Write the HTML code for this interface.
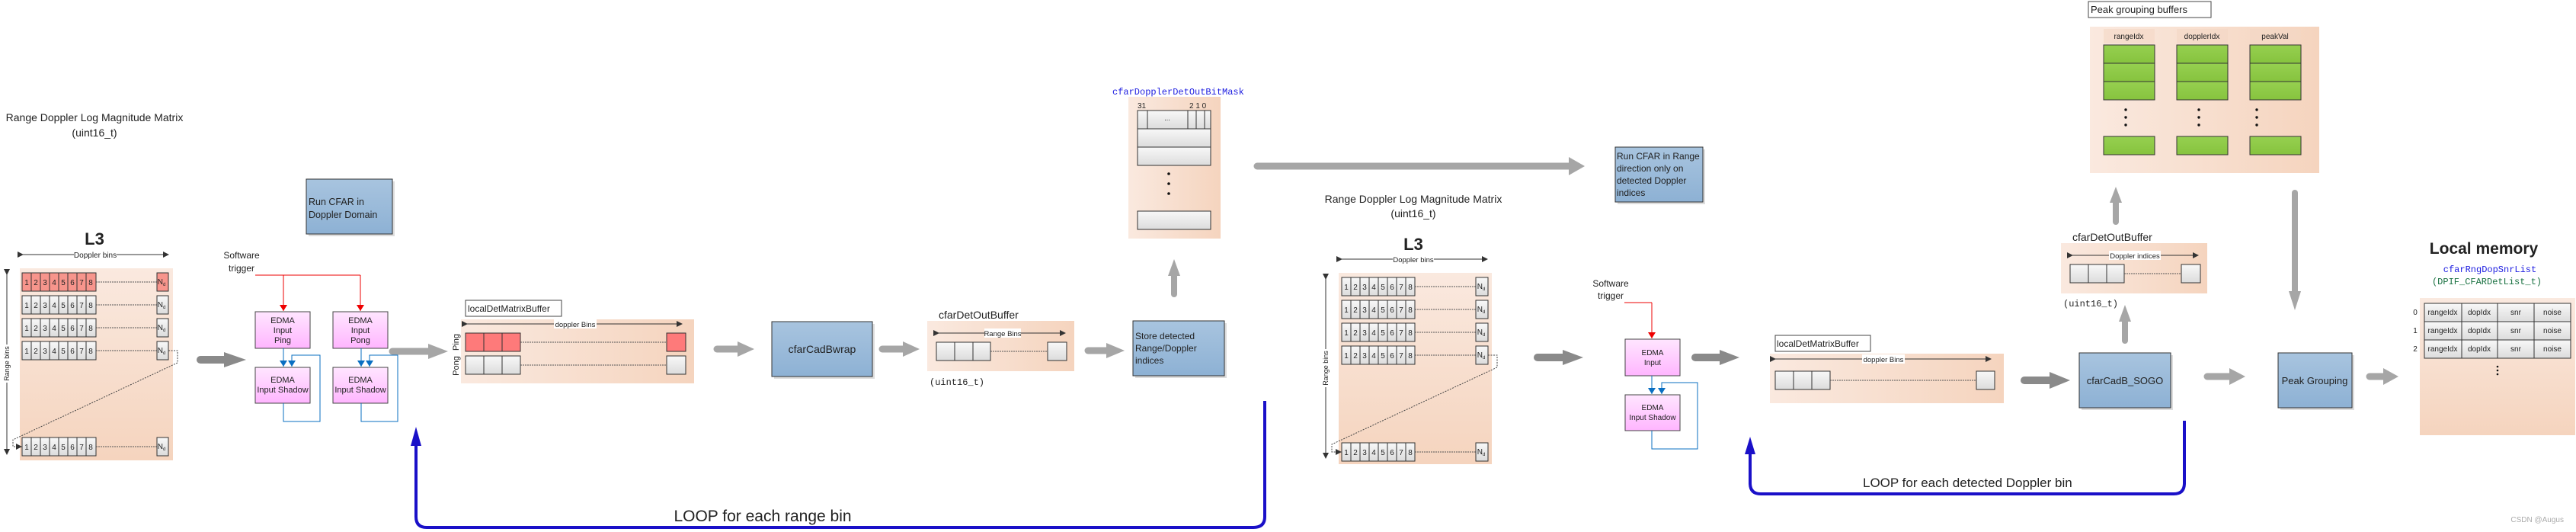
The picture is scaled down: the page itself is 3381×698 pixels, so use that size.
<!DOCTYPE html>
<html><head><meta charset="utf-8"><style>
html,body{margin:0;padding:0;background:#fff;width:3381px;height:698px;overflow:hidden}
svg{display:block}
text{font-family:"Liberation Sans",sans-serif;fill:#222}
.m{font-family:"Liberation Mono",monospace}
</style></head><body>
<svg width="3381" height="698" viewBox="0 0 3381 698" xmlns="http://www.w3.org/2000/svg">
<defs>
<linearGradient id="pk" x1="0" y1="0" x2="1" y2="0"><stop offset="0" stop-color="#fae9df"/><stop offset="1" stop-color="#f5d4be"/></linearGradient>
<linearGradient id="pkv" x1="0" y1="0" x2="0" y2="1"><stop offset="0" stop-color="#fae9df"/><stop offset="1" stop-color="#f5d4be"/></linearGradient>
<linearGradient id="bl" x1="0" y1="0" x2="0" y2="1"><stop offset="0" stop-color="#a8c4df"/><stop offset="1" stop-color="#8db1d4"/></linearGradient>
<linearGradient id="ed" x1="0" y1="0" x2="0" y2="1"><stop offset="0" stop-color="#ffe6ff"/><stop offset="1" stop-color="#ffb5ff"/></linearGradient>
<linearGradient id="ce" x1="0" y1="0" x2="0" y2="1"><stop offset="0" stop-color="#f8f8f8"/><stop offset="1" stop-color="#dcdcdc"/></linearGradient>
<linearGradient id="gr" x1="0" y1="0" x2="0" y2="1"><stop offset="0" stop-color="#96d050"/><stop offset="1" stop-color="#86c33e"/></linearGradient>
<marker id="ah" markerWidth="8" markerHeight="8" refX="7" refY="4" orient="auto" markerUnits="userSpaceOnUse"><path d="M0,0 L8,4 L0,8z" fill="#333"/></marker>
<marker id="ahr" markerWidth="8" markerHeight="10" refX="8" refY="5" orient="auto" markerUnits="userSpaceOnUse"><path d="M0,0 L8,5 L0,10z" fill="#e00"/></marker>
<marker id="ahb" markerWidth="8" markerHeight="10" refX="8" refY="5" orient="auto" markerUnits="userSpaceOnUse"><path d="M0,0 L8,5 L0,10z" fill="#0a6fc2"/></marker>
</defs>

<!-- ========== LEFT MATRIX ========== -->
<text x="124" y="159" font-size="14" text-anchor="middle">Range Doppler Log Magnitude Matrix</text>
<text x="124" y="179" font-size="14" text-anchor="middle">(uint16_t)</text>
<text x="124" y="321" font-size="22" font-weight="bold" text-anchor="middle">L3</text>
<line x1="30" y1="334" x2="221" y2="334" stroke="#333" marker-start="url(#ah)" marker-end="url(#ah)"/>
<rect x="97" y="328" width="56" height="12" fill="#fff"/>
<text x="125" y="338" font-size="10" text-anchor="middle">Doppler bins</text>
<rect x="26" y="352" width="201" height="252" fill="url(#pkv)"/>
<line x1="9" y1="360" x2="9" y2="596" stroke="#333" marker-start="url(#ah)" marker-end="url(#ah)"/>
<rect x="3" y="452" width="12" height="50" fill="#fff"/>
<text transform="translate(12,477) rotate(-90)" font-size="9" text-anchor="middle">Range bins</text>

<g font-size="10" text-anchor="middle">
<rect x="29" y="358" width="97" height="24" fill="#f7958c" stroke="#333"/>
<path d="M41,358v24M53,358v24M65,358v24M77,358v24M89,358v24M101,358v24M113,358v24" stroke="#333"/>
<text x="35 47 59 71 83 95 107 119" y="374">12345678</text>
<line x1="126" y1="370" x2="206" y2="370" stroke="#555" stroke-dasharray="2,1"/>
<rect x="206" y="358" width="15" height="24" fill="#f7958c" stroke="#333"/>
<text x="212" y="373">N<tspan font-size="6" dy="2">d</tspan></text>

<rect x="29" y="388" width="97" height="24" fill="url(#ce)" stroke="#333"/>
<path d="M41,388v24M53,388v24M65,388v24M77,388v24M89,388v24M101,388v24M113,388v24" stroke="#333"/>
<text x="35 47 59 71 83 95 107 119" y="404">12345678</text>
<line x1="126" y1="400" x2="206" y2="400" stroke="#555" stroke-dasharray="2,1"/>
<rect x="206" y="388" width="15" height="24" fill="url(#ce)" stroke="#333"/>
<text x="212" y="403">N<tspan font-size="6" dy="2">d</tspan></text>

<rect x="29" y="418" width="97" height="24" fill="url(#ce)" stroke="#333"/>
<path d="M41,418v24M53,418v24M65,418v24M77,418v24M89,418v24M101,418v24M113,418v24" stroke="#333"/>
<text x="35 47 59 71 83 95 107 119" y="434">12345678</text>
<line x1="126" y1="430" x2="206" y2="430" stroke="#555" stroke-dasharray="2,1"/>
<rect x="206" y="418" width="15" height="24" fill="url(#ce)" stroke="#333"/>
<text x="212" y="433">N<tspan font-size="6" dy="2">d</tspan></text>

<rect x="29" y="448" width="97" height="24" fill="url(#ce)" stroke="#333"/>
<path d="M41,448v24M53,448v24M65,448v24M77,448v24M89,448v24M101,448v24M113,448v24" stroke="#333"/>
<text x="35 47 59 71 83 95 107 119" y="464">12345678</text>
<line x1="126" y1="460" x2="206" y2="460" stroke="#555" stroke-dasharray="2,1"/>
<rect x="206" y="448" width="15" height="24" fill="url(#ce)" stroke="#333"/>
<text x="212" y="463">N<tspan font-size="6" dy="2">d</tspan></text>

<rect x="29" y="574" width="97" height="24" fill="url(#ce)" stroke="#333"/>
<path d="M41,574v24M53,574v24M65,574v24M77,574v24M89,574v24M101,574v24M113,574v24" stroke="#333"/>
<text x="35 47 59 71 83 95 107 119" y="590">12345678</text>
<line x1="126" y1="586" x2="206" y2="586" stroke="#555" stroke-dasharray="2,1"/>
<rect x="206" y="574" width="15" height="24" fill="url(#ce)" stroke="#333"/>
<text x="212" y="589">N<tspan font-size="6" dy="2">d</tspan></text>
</g>
<path d="M221,460 H233 V476 L17,577 V586 H28" fill="none" stroke="#444" stroke-dasharray="2,1.5" marker-end="url(#ah)"/>

<!-- gray arrow into EDMA -->
<line x1="263" y1="472" x2="298" y2="472" stroke="#8a8a8a" stroke-width="10" stroke-linecap="round"/>
<polygon points="294,462 323,472 294,482" fill="#8a8a8a"/>

<!-- Run CFAR Doppler -->
<rect x="405" y="238" width="113" height="72" fill="#ddd"/>
<rect x="402" y="235" width="113" height="72" fill="url(#bl)" stroke="#333"/>
<text x="405" y="269" font-size="12.5">Run CFAR in</text>
<text x="405" y="286" font-size="12.5">Doppler Domain</text>

<!-- Software trigger + EDMA left -->
<text x="317" y="339" font-size="12" text-anchor="middle">Software</text>
<text x="317" y="356" font-size="12" text-anchor="middle">trigger</text>
<path d="M335,361 H473" stroke="#e00" fill="none"/>
<line x1="372" y1="361" x2="372" y2="408" stroke="#e00" marker-end="url(#ahr)"/>
<line x1="473" y1="361" x2="473" y2="408" stroke="#e00" marker-end="url(#ahr)"/>
<g font-size="11" text-anchor="middle">
<rect x="335" y="409" width="72" height="48" fill="url(#ed)" stroke="#444"/>
<text x="371" y="424">EDMA</text><text x="371" y="437">Input</text><text x="371" y="450">Ping</text>
<rect x="437" y="409" width="72" height="48" fill="url(#ed)" stroke="#444"/>
<text x="473" y="424">EDMA</text><text x="473" y="437">Input</text><text x="473" y="450">Pong</text>
<rect x="335" y="482" width="72" height="47" fill="url(#ed)" stroke="#444"/>
<text x="371" y="502">EDMA</text><text x="371" y="515">Input Shadow</text>
<rect x="437" y="482" width="72" height="47" fill="url(#ed)" stroke="#444"/>
<text x="473" y="502">EDMA</text><text x="473" y="515">Input Shadow</text>
</g>
<line x1="372" y1="457" x2="372" y2="481" stroke="#0a6fc2" marker-end="url(#ahb)"/>
<path d="M372,529 V553 H420 V466 H383 V481" fill="none" stroke="#0a6fc2" marker-end="url(#ahb)"/>
<line x1="474" y1="457" x2="474" y2="481" stroke="#0a6fc2" marker-end="url(#ahb)"/>
<path d="M474,529 V553 H522 V466 H485 V481" fill="none" stroke="#0a6fc2" marker-end="url(#ahb)"/>

<!-- gray arrow to localDet -->
<line x1="515" y1="461" x2="565" y2="461" stroke="#a6a6a6" stroke-width="9" stroke-linecap="round"/>
<polygon points="562,451 588,461 562,471" fill="#a6a6a6"/>

<!-- localDetMatrixBuffer (ping/pong) -->
<rect x="611" y="394" width="126" height="21" fill="#fff" stroke="#444"/>
<text x="614" y="409" font-size="12">localDetMatrixBuffer</text>
<rect x="605" y="419" width="306" height="84" fill="url(#pk)"/>
<line x1="613" y1="425" x2="895" y2="425" stroke="#333" marker-start="url(#ah)" marker-end="url(#ah)"/>
<rect x="727" y="419" width="56" height="12" fill="#fff"/>
<text x="755" y="429" font-size="9.5" text-anchor="middle">doppler Bins</text>
<rect x="611" y="437" width="72" height="24" fill="#fe7a7a" stroke="#333"/>
<path d="M635,437v24M659,437v24" stroke="#333"/>
<line x1="683" y1="449" x2="875" y2="449" stroke="#555" stroke-dasharray="2,1"/>
<rect x="875" y="437" width="25" height="24" fill="#fe7a7a" stroke="#333"/>
<rect x="611" y="467" width="72" height="24" fill="url(#ce)" stroke="#333"/>
<path d="M635,467v24M659,467v24" stroke="#333"/>
<line x1="683" y1="479" x2="875" y2="479" stroke="#555" stroke-dasharray="2,1"/>
<rect x="875" y="467" width="25" height="24" fill="url(#ce)" stroke="#333"/>
<text transform="translate(602,449) rotate(-90)" font-size="11" text-anchor="middle">Ping</text>
<text transform="translate(602,480) rotate(-90)" font-size="11" text-anchor="middle">Pong</text>

<line x1="941" y1="458" x2="972" y2="458" stroke="#a6a6a6" stroke-width="9" stroke-linecap="round"/>
<polygon points="968,448 990,458 968,468" fill="#a6a6a6"/>
<rect x="1016" y="425" width="132" height="72" fill="#ddd"/>
<rect x="1013" y="422" width="132" height="72" fill="url(#bl)" stroke="#333"/>
<text x="1079" y="463" font-size="14" text-anchor="middle">cfarCadBwrap</text>
<line x1="1158" y1="458" x2="1188" y2="458" stroke="#a6a6a6" stroke-width="9" stroke-linecap="round"/>
<polygon points="1185,448 1207,458 1185,468" fill="#a6a6a6"/>

<!-- cfarDetOutBuffer 1 -->
<text x="1232" y="418" font-size="14">cfarDetOutBuffer</text>
<rect x="1217" y="421" width="193" height="66" fill="url(#pk)"/>
<line x1="1232" y1="437" x2="1398" y2="437" stroke="#333" marker-start="url(#ah)" marker-end="url(#ah)"/>
<rect x="1292" y="431" width="48" height="12" fill="#fff"/>
<text x="1316" y="441" font-size="9.5" text-anchor="middle">Range Bins</text>
<rect x="1229" y="449" width="71" height="24" fill="url(#ce)" stroke="#333"/>
<path d="M1253,449v24M1277,449v24" stroke="#333"/>
<line x1="1300" y1="461" x2="1375" y2="461" stroke="#555" stroke-dasharray="2,1"/>
<rect x="1375" y="449" width="25" height="24" fill="url(#ce)" stroke="#333"/>
<text x="1220" y="505" font-size="12" class="m">(uint16_t)</text>

<line x1="1428" y1="460" x2="1455" y2="460" stroke="#a6a6a6" stroke-width="9" stroke-linecap="round"/>
<polygon points="1452,450 1476,460 1452,470" fill="#a6a6a6"/>
<rect x="1490" y="424" width="120" height="72" fill="#ddd"/>
<rect x="1487" y="421" width="120" height="72" fill="url(#bl)" stroke="#333"/>
<text x="1490" y="445" font-size="12">Store detected</text>
<text x="1490" y="461" font-size="12">Range/Doppler</text>
<text x="1490" y="477" font-size="12">indices</text>

<!-- up arrow to bitmask -->
<line x1="1541" y1="386" x2="1541" y2="358" stroke="#a6a6a6" stroke-width="8" stroke-linecap="round"/>
<polygon points="1533,362 1541,340 1549,362" fill="#a6a6a6"/>

<!-- bitmask -->
<text x="1460" y="124" font-size="12" class="m" style="fill:#1c1ce0">cfarDopplerDetOutBitMask</text>
<rect x="1481" y="127" width="121" height="186" fill="url(#pk)"/>
<text x="1493" y="142" font-size="10">31</text>
<text x="1561" y="142" font-size="10">2 1 0</text>
<rect x="1493" y="145" width="96" height="24" fill="url(#ce)" stroke="#333"/>
<path d="M1506,145v24M1559,145v24M1570,145v24M1581,145v24" stroke="#333"/>
<text x="1532" y="158" font-size="9" text-anchor="middle">...</text>
<rect x="1493" y="169" width="96" height="24" fill="url(#ce)" stroke="#333"/>
<rect x="1493" y="193" width="96" height="24" fill="url(#ce)" stroke="#333"/>
<circle cx="1534" cy="228" r="1.8" fill="#111"/><circle cx="1534" cy="241" r="1.8" fill="#111"/><circle cx="1534" cy="254" r="1.8" fill="#111"/>
<rect x="1493" y="277" width="96" height="24" fill="url(#ce)" stroke="#333"/>

<!-- long arrow -->
<line x1="1650" y1="218" x2="2062" y2="218" stroke="#a6a6a6" stroke-width="9" stroke-linecap="round"/>
<polygon points="2059,206 2080,218 2059,230" fill="#a6a6a6"/>

<!-- Run CFAR Range -->
<rect x="2123" y="196" width="115" height="72" fill="#ddd"/>
<rect x="2120" y="193" width="115" height="72" fill="url(#bl)" stroke="#333"/>
<text x="2122" y="209" font-size="12">Run CFAR in Range</text>
<text x="2122" y="225" font-size="12">direction only on</text>
<text x="2122" y="241" font-size="12">detected Doppler</text>
<text x="2122" y="257" font-size="12">indices</text>

<!-- Loop 1 -->
<path d="M546,580 V678 Q546,692 560,692 H1645 Q1660,692 1660,678 V526" fill="none" stroke="#1a10c8" stroke-width="4"/>
<polygon points="539,585 546,560 553,585" fill="#1a10c8"/>
<text x="1001" y="684" font-size="21" text-anchor="middle">LOOP for each range bin</text>

<!-- ========== RIGHT MATRIX ========== -->
<text x="1855" y="266" font-size="14" text-anchor="middle">Range Doppler Log Magnitude Matrix</text>
<text x="1855" y="285" font-size="14" text-anchor="middle">(uint16_t)</text>
<text x="1855" y="328" font-size="22" font-weight="bold" text-anchor="middle">L3</text>
<line x1="1761" y1="340" x2="1952" y2="340" stroke="#333" marker-start="url(#ah)" marker-end="url(#ah)"/>
<rect x="1828" y="334" width="54" height="12" fill="#fff"/>
<text x="1855" y="344" font-size="9.5" text-anchor="middle">Doppler bins</text>
<rect x="1757" y="358" width="201" height="251" fill="url(#pkv)"/>
<line x1="1740" y1="366" x2="1740" y2="601" stroke="#333" marker-start="url(#ah)" marker-end="url(#ah)"/>
<rect x="1734" y="458" width="12" height="50" fill="#fff"/>
<text transform="translate(1743,483) rotate(-90)" font-size="9" text-anchor="middle">Range bins</text>
<g font-size="10" text-anchor="middle">
<rect x="1761" y="364" width="96" height="24" fill="url(#ce)" stroke="#333"/>
<path d="M1773,364v24M1785,364v24M1797,364v24M1809,364v24M1821,364v24M1833,364v24M1845,364v24" stroke="#333"/>
<text x="1767 1779 1791 1803 1815 1827 1839 1851" y="380">12345678</text>
<line x1="1857" y1="376" x2="1937" y2="376" stroke="#555" stroke-dasharray="2,1"/>
<rect x="1937" y="364" width="16" height="24" fill="url(#ce)" stroke="#333"/>
<text x="1944" y="379">N<tspan font-size="6" dy="2">d</tspan></text>

<rect x="1761" y="394" width="96" height="24" fill="url(#ce)" stroke="#333"/>
<path d="M1773,394v24M1785,394v24M1797,394v24M1809,394v24M1821,394v24M1833,394v24M1845,394v24" stroke="#333"/>
<text x="1767 1779 1791 1803 1815 1827 1839 1851" y="410">12345678</text>
<line x1="1857" y1="406" x2="1937" y2="406" stroke="#555" stroke-dasharray="2,1"/>
<rect x="1937" y="394" width="16" height="24" fill="url(#ce)" stroke="#333"/>
<text x="1944" y="409">N<tspan font-size="6" dy="2">d</tspan></text>

<rect x="1761" y="424" width="96" height="24" fill="url(#ce)" stroke="#333"/>
<path d="M1773,424v24M1785,424v24M1797,424v24M1809,424v24M1821,424v24M1833,424v24M1845,424v24" stroke="#333"/>
<text x="1767 1779 1791 1803 1815 1827 1839 1851" y="440">12345678</text>
<line x1="1857" y1="436" x2="1937" y2="436" stroke="#555" stroke-dasharray="2,1"/>
<rect x="1937" y="424" width="16" height="24" fill="url(#ce)" stroke="#333"/>
<text x="1944" y="439">N<tspan font-size="6" dy="2">d</tspan></text>

<rect x="1761" y="454" width="96" height="24" fill="url(#ce)" stroke="#333"/>
<path d="M1773,454v24M1785,454v24M1797,454v24M1809,454v24M1821,454v24M1833,454v24M1845,454v24" stroke="#333"/>
<text x="1767 1779 1791 1803 1815 1827 1839 1851" y="470">12345678</text>
<line x1="1857" y1="466" x2="1937" y2="466" stroke="#555" stroke-dasharray="2,1"/>
<rect x="1937" y="454" width="16" height="24" fill="url(#ce)" stroke="#333"/>
<text x="1944" y="469">N<tspan font-size="6" dy="2">d</tspan></text>

<rect x="1761" y="581" width="96" height="24" fill="url(#ce)" stroke="#333"/>
<path d="M1773,581v24M1785,581v24M1797,581v24M1809,581v24M1821,581v24M1833,581v24M1845,581v24" stroke="#333"/>
<text x="1767 1779 1791 1803 1815 1827 1839 1851" y="597">12345678</text>
<line x1="1857" y1="593" x2="1937" y2="593" stroke="#555" stroke-dasharray="2,1"/>
<rect x="1937" y="581" width="16" height="24" fill="url(#ce)" stroke="#333"/>
<text x="1944" y="596">N<tspan font-size="6" dy="2">d</tspan></text>
</g>
<path d="M1953,466 H1965 V482 L1748,583 V593 H1760" fill="none" stroke="#444" stroke-dasharray="2,1.5" marker-end="url(#ah)"/>

<line x1="2018" y1="469" x2="2055" y2="469" stroke="#8a8a8a" stroke-width="10" stroke-linecap="round"/>
<polygon points="2051,459 2078,469 2051,479" fill="#8a8a8a"/>

<!-- right EDMA -->
<text x="2114" y="376" font-size="12" text-anchor="middle">Software</text>
<text x="2114" y="392" font-size="12" text-anchor="middle">trigger</text>
<path d="M2132,397 H2168" stroke="#e00" fill="none"/>
<line x1="2168" y1="397" x2="2168" y2="444" stroke="#e00" marker-end="url(#ahr)"/>
<g font-size="10" text-anchor="middle">
<rect x="2133" y="445" width="72" height="48" fill="url(#ed)" stroke="#444"/>
<text x="2169" y="466">EDMA</text><text x="2169" y="479">Input</text>
<rect x="2133" y="518" width="72" height="47" fill="url(#ed)" stroke="#444"/>
<text x="2169" y="538">EDMA</text><text x="2169" y="551">Input Shadow</text>
</g>
<line x1="2168" y1="493" x2="2168" y2="517" stroke="#0a6fc2" marker-end="url(#ahb)"/>
<path d="M2168,565 V589 H2228 V502 H2181 V517" fill="none" stroke="#0a6fc2" marker-end="url(#ahb)"/>

<line x1="2225" y1="469" x2="2262" y2="469" stroke="#8a8a8a" stroke-width="10" stroke-linecap="round"/>
<polygon points="2257,459 2283,469 2257,479" fill="#8a8a8a"/>

<!-- localDet 2 -->
<rect x="2330" y="440" width="125" height="21" fill="#fff" stroke="#444"/>
<text x="2332" y="455" font-size="12">localDetMatrixBuffer</text>
<rect x="2323" y="464" width="307" height="65" fill="url(#pk)"/>
<line x1="2330" y1="471" x2="2613" y2="471" stroke="#333" marker-start="url(#ah)" marker-end="url(#ah)"/>
<rect x="2444" y="465" width="56" height="12" fill="#fff"/>
<text x="2472" y="475" font-size="9.5" text-anchor="middle">doppler Bins</text>
<rect x="2330" y="487" width="72" height="24" fill="url(#ce)" stroke="#333"/>
<path d="M2354,487v24M2378,487v24" stroke="#333"/>
<line x1="2402" y1="499" x2="2594" y2="499" stroke="#555" stroke-dasharray="2,1"/>
<rect x="2594" y="487" width="24" height="24" fill="url(#ce)" stroke="#333"/>

<!-- Loop 2 -->
<path d="M2297,590 V634 Q2297,648 2311,648 H2853 Q2867,648 2867,634 V552" fill="none" stroke="#1a10c8" stroke-width="4"/>
<polygon points="2290,596 2297,573 2304,596" fill="#1a10c8"/>
<text x="2445" y="639" font-size="17">LOOP for each detected Doppler bin</text>

<!-- cfarCadB_SOGO -->
<line x1="2657" y1="499" x2="2695" y2="499" stroke="#8a8a8a" stroke-width="10" stroke-linecap="round"/>
<polygon points="2690,488 2717,499 2690,510" fill="#8a8a8a"/>
<rect x="2732" y="466" width="120" height="72" fill="#ddd"/>
<rect x="2729" y="463" width="120" height="72" fill="url(#bl)" stroke="#333"/>
<text x="2789" y="504" font-size="13" text-anchor="middle">cfarCadB_SOGO</text>
<line x1="2789" y1="447" x2="2789" y2="418" stroke="#a6a6a6" stroke-width="8" stroke-linecap="round"/>
<polygon points="2781,422 2789,400 2797,422" fill="#a6a6a6"/>

<!-- cfarDetOutBuffer 2 -->
<text x="2720" y="316" font-size="14">cfarDetOutBuffer</text>
<rect x="2705" y="319" width="192" height="66" fill="url(#pk)"/>
<line x1="2720" y1="335" x2="2885" y2="335" stroke="#333" marker-start="url(#ah)" marker-end="url(#ah)"/>
<rect x="2768" y="329" width="68" height="12" fill="#fff"/>
<text x="2802" y="339" font-size="9.5" text-anchor="middle">Doppler indices</text>
<rect x="2717" y="347" width="71" height="24" fill="url(#ce)" stroke="#333"/>
<path d="M2741,347v24M2765,347v24" stroke="#333"/>
<line x1="2788" y1="359" x2="2863" y2="359" stroke="#555" stroke-dasharray="2,1"/>
<rect x="2863" y="347" width="25" height="24" fill="url(#ce)" stroke="#333"/>
<text x="2708" y="402" font-size="12" class="m">(uint16_t)</text>
<line x1="2777" y1="291" x2="2777" y2="262" stroke="#a6a6a6" stroke-width="8" stroke-linecap="round"/>
<polygon points="2769,266 2777,245 2785,266" fill="#a6a6a6"/>

<!-- Peak grouping buffers -->
<rect x="2741" y="2" width="161" height="21" fill="#fff" stroke="#444"/>
<text x="2744" y="17" font-size="13">Peak grouping buffers</text>
<rect x="2743" y="35" width="301" height="192" fill="url(#pk)"/>
<rect x="2761" y="38" width="67" height="19" fill="#f4d7c4" opacity=".6"/>
<rect x="2857" y="38" width="67" height="19" fill="#f4d7c4" opacity=".6"/>
<rect x="2953" y="38" width="67" height="19" fill="#f4d7c4" opacity=".6"/>
<text x="2794" y="51" font-size="10" text-anchor="middle">rangeIdx</text>
<text x="2890" y="51" font-size="10" text-anchor="middle">dopplerIdx</text>
<text x="2986" y="51" font-size="10" text-anchor="middle">peakVal</text>
<g fill="url(#gr)" stroke="#333">
<rect x="2761" y="59" width="67" height="24"/><rect x="2761" y="83" width="67" height="24"/><rect x="2761" y="107" width="67" height="24"/><rect x="2761" y="179" width="67" height="24"/>
<rect x="2857" y="59" width="67" height="24"/><rect x="2857" y="83" width="67" height="24"/><rect x="2857" y="107" width="67" height="24"/><rect x="2857" y="179" width="67" height="24"/>
<rect x="2953" y="59" width="67" height="24"/><rect x="2953" y="83" width="67" height="24"/><rect x="2953" y="107" width="67" height="24"/><rect x="2953" y="179" width="67" height="24"/>
</g>
<g fill="#111">
<circle cx="2790" cy="144" r="1.7"/><circle cx="2790" cy="154" r="1.7"/><circle cx="2790" cy="164" r="1.7"/>
<circle cx="2886" cy="144" r="1.7"/><circle cx="2886" cy="154" r="1.7"/><circle cx="2886" cy="164" r="1.7"/>
<circle cx="2962" cy="144" r="1.7"/><circle cx="2962" cy="154" r="1.7"/><circle cx="2962" cy="164" r="1.7"/>
</g>
<line x1="3012" y1="253" x2="3012" y2="385" stroke="#a6a6a6" stroke-width="8" stroke-linecap="round"/>
<polygon points="3004,382 3012,407 3020,382" fill="#a6a6a6"/>

<!-- Peak Grouping -->
<line x1="2897" y1="494" x2="2930" y2="494" stroke="#a6a6a6" stroke-width="9" stroke-linecap="round"/>
<polygon points="2926,483 2947,494 2926,505" fill="#a6a6a6"/>
<rect x="2993" y="466" width="97" height="72" fill="#ddd"/>
<rect x="2990" y="463" width="97" height="72" fill="url(#bl)" stroke="#333"/>
<text x="3038" y="504" font-size="13" text-anchor="middle">Peak Grouping</text>
<line x1="3110" y1="494" x2="3132" y2="494" stroke="#a6a6a6" stroke-width="9" stroke-linecap="round"/>
<polygon points="3128,483 3148,494 3128,505" fill="#a6a6a6"/>

<!-- Local memory -->
<text x="3260" y="333" font-size="21" font-weight="bold" text-anchor="middle">Local memory</text>
<text x="3268" y="357" font-size="12" class="m" text-anchor="middle" style="fill:#1c1ce0">cfarRngDopSnrList</text>
<text x="3264" y="373" font-size="12" class="m" text-anchor="middle" style="fill:#187040">(DPIF_CFARDetList_t)</text>
<rect x="3176" y="391" width="204" height="180" fill="url(#pkv)"/>
<g font-size="10" text-anchor="middle">
<text x="3170" y="413">0</text><text x="3170" y="437">1</text><text x="3170" y="461">2</text>
<g fill="url(#ce)" stroke="#333">
<rect x="3182" y="398" width="192" height="24"/><rect x="3182" y="422" width="192" height="24"/><rect x="3182" y="446" width="192" height="24"/>
</g>
<path d="M3231,398v72M3278,398v72M3326,398v72" stroke="#333"/>
<text x="3206" y="413">rangeIdx</text><text x="3254" y="413">dopIdx</text><text x="3302" y="413">snr</text><text x="3350" y="413">noise</text>
<text x="3206" y="437">rangeIdx</text><text x="3254" y="437">dopIdx</text><text x="3302" y="437">snr</text><text x="3350" y="437">noise</text>
<text x="3206" y="461">rangeIdx</text><text x="3254" y="461">dopIdx</text><text x="3302" y="461">snr</text><text x="3350" y="461">noise</text>
</g>
<circle cx="3278" cy="481" r="1.3" fill="#111"/><circle cx="3278" cy="486" r="1.3" fill="#111"/><circle cx="3278" cy="491" r="1.3" fill="#111"/>

<text x="3365" y="685" font-size="10" text-anchor="end" style="fill:#aaa">CSDN @Augus</text>
</svg>
</body></html>
